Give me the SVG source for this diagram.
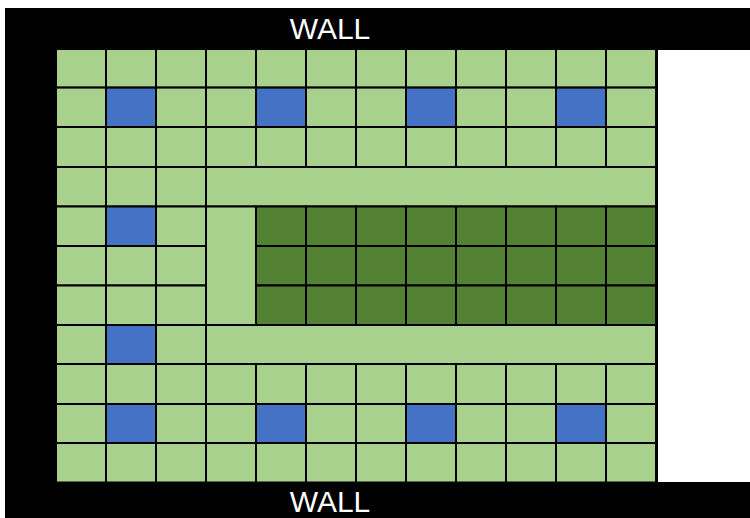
<svg xmlns="http://www.w3.org/2000/svg" width="750" height="518" viewBox="0 0 750 518">
<style>
.l{fill:#A9D18E;stroke:#000;stroke-width:2}
.b{fill:#4472C4;stroke:#000;stroke-width:2}
.d{fill:#548235;stroke:#000;stroke-width:2}
.t{fill:#fff;font-family:"Liberation Sans",Arial,sans-serif;font-size:30px;text-anchor:middle}
</style>
<rect width="750" height="518" fill="#fff"/>
<g id="walls">
<rect x="5" y="8" width="745" height="510" fill="#000"/>
<rect x="658" y="50" width="92" height="432" fill="#fff"/>
<text class="t" x="330" y="39">WALL</text>
<text class="t" x="330" y="512">WALL</text>
</g>
<g id="grid">
<g id="row0"><rect class="l" x="56" y="49" width="50" height="38.6"/><rect class="l" x="106" y="49" width="50" height="38.6"/><rect class="l" x="156" y="49" width="50" height="38.6"/><rect class="l" x="206" y="49" width="50" height="38.6"/><rect class="l" x="256" y="49" width="50" height="38.6"/><rect class="l" x="306" y="49" width="50" height="38.6"/><rect class="l" x="356" y="49" width="50" height="38.6"/><rect class="l" x="406" y="49" width="50" height="38.6"/><rect class="l" x="456" y="49" width="50" height="38.6"/><rect class="l" x="506" y="49" width="50" height="38.6"/><rect class="l" x="556" y="49" width="50" height="38.6"/><rect class="l" x="606" y="49" width="50" height="38.6"/></g>
<g id="row1"><rect class="l" x="56" y="87.6" width="50" height="39.4"/><rect class="b" x="106" y="87.6" width="50" height="39.4"/><rect class="l" x="156" y="87.6" width="50" height="39.4"/><rect class="l" x="206" y="87.6" width="50" height="39.4"/><rect class="b" x="256" y="87.6" width="50" height="39.4"/><rect class="l" x="306" y="87.6" width="50" height="39.4"/><rect class="l" x="356" y="87.6" width="50" height="39.4"/><rect class="b" x="406" y="87.6" width="50" height="39.4"/><rect class="l" x="456" y="87.6" width="50" height="39.4"/><rect class="l" x="506" y="87.6" width="50" height="39.4"/><rect class="b" x="556" y="87.6" width="50" height="39.4"/><rect class="l" x="606" y="87.6" width="50" height="39.4"/></g>
<g id="row2"><rect class="l" x="56" y="127" width="50" height="40"/><rect class="l" x="106" y="127" width="50" height="40"/><rect class="l" x="156" y="127" width="50" height="40"/><rect class="l" x="206" y="127" width="50" height="40"/><rect class="l" x="256" y="127" width="50" height="40"/><rect class="l" x="306" y="127" width="50" height="40"/><rect class="l" x="356" y="127" width="50" height="40"/><rect class="l" x="406" y="127" width="50" height="40"/><rect class="l" x="456" y="127" width="50" height="40"/><rect class="l" x="506" y="127" width="50" height="40"/><rect class="l" x="556" y="127" width="50" height="40"/><rect class="l" x="606" y="127" width="50" height="40"/></g>
<g id="row3"><rect class="l" x="56" y="167" width="50" height="39.5"/><rect class="l" x="106" y="167" width="50" height="39.5"/><rect class="l" x="156" y="167" width="50" height="39.5"/><rect class="l" x="206" y="167" width="450" height="39.5"/></g>
<g id="row4"><rect class="l" x="56" y="206.5" width="50" height="39.5"/><rect class="b" x="106" y="206.5" width="50" height="39.5"/><rect class="l" x="156" y="206.5" width="50" height="39.5"/><rect class="d" x="256" y="206.5" width="50" height="39.5"/><rect class="d" x="306" y="206.5" width="50" height="39.5"/><rect class="d" x="356" y="206.5" width="50" height="39.5"/><rect class="d" x="406" y="206.5" width="50" height="39.5"/><rect class="d" x="456" y="206.5" width="50" height="39.5"/><rect class="d" x="506" y="206.5" width="50" height="39.5"/><rect class="d" x="556" y="206.5" width="50" height="39.5"/><rect class="d" x="606" y="206.5" width="50" height="39.5"/></g>
<g id="row5"><rect class="l" x="56" y="246" width="50" height="39.5"/><rect class="l" x="106" y="246" width="50" height="39.5"/><rect class="l" x="156" y="246" width="50" height="39.5"/><rect class="d" x="256" y="246" width="50" height="39.5"/><rect class="d" x="306" y="246" width="50" height="39.5"/><rect class="d" x="356" y="246" width="50" height="39.5"/><rect class="d" x="406" y="246" width="50" height="39.5"/><rect class="d" x="456" y="246" width="50" height="39.5"/><rect class="d" x="506" y="246" width="50" height="39.5"/><rect class="d" x="556" y="246" width="50" height="39.5"/><rect class="d" x="606" y="246" width="50" height="39.5"/></g>
<g id="row6"><rect class="l" x="56" y="285.5" width="50" height="39.5"/><rect class="l" x="106" y="285.5" width="50" height="39.5"/><rect class="l" x="156" y="285.5" width="50" height="39.5"/><rect class="d" x="256" y="285.5" width="50" height="39.5"/><rect class="d" x="306" y="285.5" width="50" height="39.5"/><rect class="d" x="356" y="285.5" width="50" height="39.5"/><rect class="d" x="406" y="285.5" width="50" height="39.5"/><rect class="d" x="456" y="285.5" width="50" height="39.5"/><rect class="d" x="506" y="285.5" width="50" height="39.5"/><rect class="d" x="556" y="285.5" width="50" height="39.5"/><rect class="d" x="606" y="285.5" width="50" height="39.5"/></g>
<g id="col3merge"><rect class="l" x="206" y="206.5" width="50" height="118.5"/></g>
<g id="row7"><rect class="l" x="56" y="325" width="50" height="39"/><rect class="b" x="106" y="325" width="50" height="39"/><rect class="l" x="156" y="325" width="50" height="39"/><rect class="l" x="206" y="325" width="450" height="39"/></g>
<g id="row8"><rect class="l" x="56" y="364" width="50" height="40"/><rect class="l" x="106" y="364" width="50" height="40"/><rect class="l" x="156" y="364" width="50" height="40"/><rect class="l" x="206" y="364" width="50" height="40"/><rect class="l" x="256" y="364" width="50" height="40"/><rect class="l" x="306" y="364" width="50" height="40"/><rect class="l" x="356" y="364" width="50" height="40"/><rect class="l" x="406" y="364" width="50" height="40"/><rect class="l" x="456" y="364" width="50" height="40"/><rect class="l" x="506" y="364" width="50" height="40"/><rect class="l" x="556" y="364" width="50" height="40"/><rect class="l" x="606" y="364" width="50" height="40"/></g>
<g id="row9"><rect class="l" x="56" y="404" width="50" height="39"/><rect class="b" x="106" y="404" width="50" height="39"/><rect class="l" x="156" y="404" width="50" height="39"/><rect class="l" x="206" y="404" width="50" height="39"/><rect class="b" x="256" y="404" width="50" height="39"/><rect class="l" x="306" y="404" width="50" height="39"/><rect class="l" x="356" y="404" width="50" height="39"/><rect class="b" x="406" y="404" width="50" height="39"/><rect class="l" x="456" y="404" width="50" height="39"/><rect class="l" x="506" y="404" width="50" height="39"/><rect class="b" x="556" y="404" width="50" height="39"/><rect class="l" x="606" y="404" width="50" height="39"/></g>
<g id="row10"><rect class="l" x="56" y="443" width="50" height="39.5"/><rect class="l" x="106" y="443" width="50" height="39.5"/><rect class="l" x="156" y="443" width="50" height="39.5"/><rect class="l" x="206" y="443" width="50" height="39.5"/><rect class="l" x="256" y="443" width="50" height="39.5"/><rect class="l" x="306" y="443" width="50" height="39.5"/><rect class="l" x="356" y="443" width="50" height="39.5"/><rect class="l" x="406" y="443" width="50" height="39.5"/><rect class="l" x="456" y="443" width="50" height="39.5"/><rect class="l" x="506" y="443" width="50" height="39.5"/><rect class="l" x="556" y="443" width="50" height="39.5"/><rect class="l" x="606" y="443" width="50" height="39.5"/></g>
</g>
</svg>
